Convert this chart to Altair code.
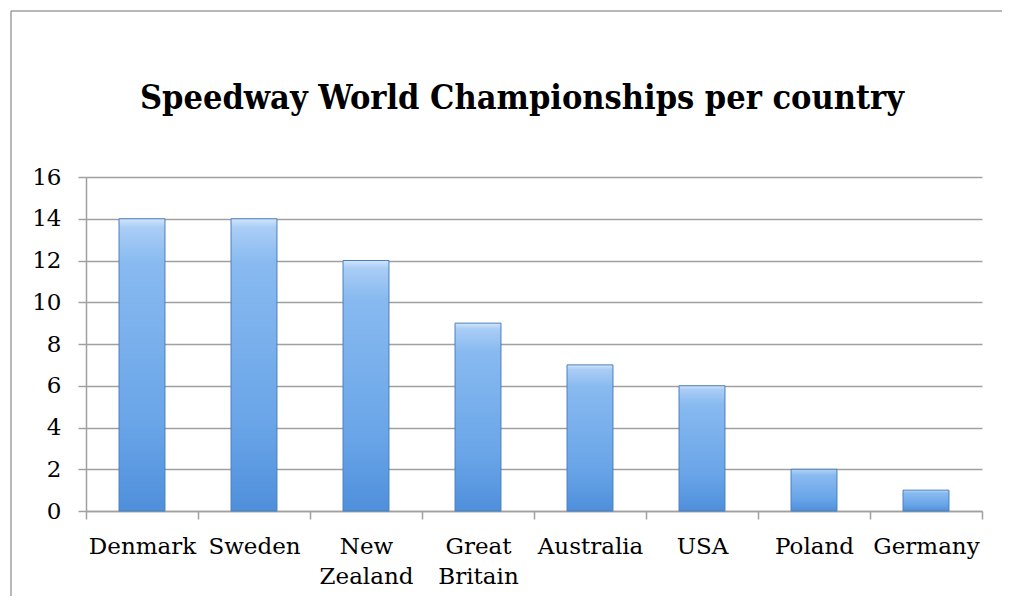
import altair as alt
import pandas as pd

countries = ["Denmark", "Sweden", "New Zealand", "Great Britain", "Australia", "USA", "Poland", "Germany"]
titles = [14, 14, 12, 9, 7, 6, 2, 1]
y_ticks = [0, 2, 4, 6, 8, 10, 12, 14, 16]
chart_title = "Speedway World Championships per country"

df = pd.DataFrame({"country": countries, "titles": titles})

W, H = 896, 334
GRID = "#a0a0a0"

bar_fill = alt.LinearGradient(
    gradient="linear",
    x1=0, x2=0, y1=0, y2=1,
    stops=[
        alt.GradientStop(offset=0.0, color="#d2e5fc"),
        alt.GradientStop(offset=0.03, color="#aacdf6"),
        alt.GradientStop(offset=0.15, color="#88baf0"),
        alt.GradientStop(offset=0.7, color="#69a5e8"),
        alt.GradientStop(offset=1.0, color="#4f8fdb"),
    ],
)

bars = alt.Chart(df).mark_bar(
    fill=bar_fill, stroke="#4a7ebd", strokeWidth=1,
    width=alt.RelativeBandSize(0.41),
).encode(
    x=alt.X("country:N", sort=countries, title=None,
            scale=alt.Scale(paddingInner=0, paddingOuter=0),
            axis=alt.Axis(labelAngle=0, labelExpr="split(datum.label, ' ')",
                          tickBand="extent", tickSize=8, tickColor=GRID,
                          domainColor=GRID, domainWidth=1.5, tickWidth=1.5,
                          labelPadding=16, labelLineHeight=30,
                          labelFont="DejaVu Serif", labelFontSize=23, labelColor="#000000",
                          grid=False)),
    y=alt.Y("titles:Q", title=None,
            scale=alt.Scale(domain=[0, 16], nice=False),
            axis=alt.Axis(values=y_ticks, tickSize=8, tickColor=GRID, domainColor=GRID,
                          domainWidth=1.5, tickWidth=1.5, gridWidth=1.5,
                          gridColor=GRID, labelPadding=17, labelFont="DejaVu Serif",
                          labelFontSize=23, labelColor="#000000")),
)

frame_data = alt.Data(values=[{"k": 1}])
frame_left = alt.Chart(frame_data).mark_rule(color="#a0a0a0", strokeWidth=1.5).encode(
    x=alt.value(-75), y=alt.value(-166), y2=alt.value(H + 90)
)
frame_top = alt.Chart(frame_data).mark_rule(color="#a0a0a0", strokeWidth=1.5).encode(
    x=alt.value(-75), x2=alt.value(W + 30), y=alt.value(-166)
)
title_mark = alt.Chart(frame_data).mark_text(
    font="DejaVu Serif Condensed", fontSize=34, fontWeight="bold",
    color="#000000", align="center", baseline="alphabetic",
).encode(x=alt.value(436), y=alt.value(-68), text=alt.value(chart_title))

chart = alt.layer(bars, frame_left, frame_top, title_mark).properties(
    width=W, height=H,
    autosize=alt.AutoSizeParams(type="none"),
    padding={"left": 78, "top": 169, "right": 20, "bottom": 85},
).configure_view(strokeWidth=0)

chart.save("out.html", embed_options={"renderer": "svg", "actions": False})
